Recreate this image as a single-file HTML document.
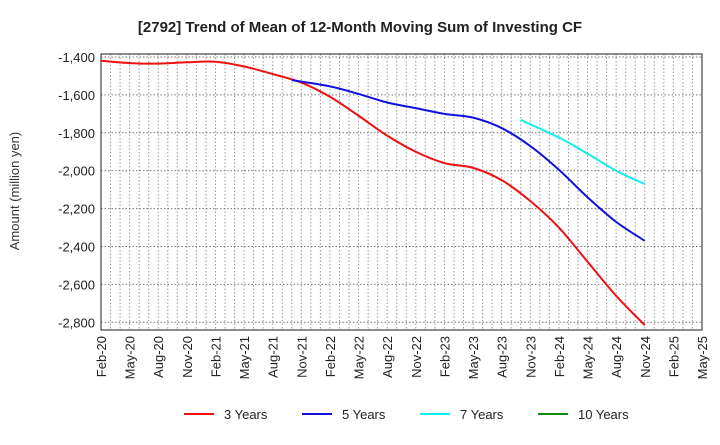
<!DOCTYPE html>
<html><head><meta charset="utf-8"><style>
body{margin:0;background:#fff;font-family:"Liberation Sans",sans-serif}
svg text{font-family:"Liberation Sans",sans-serif}
</style></head><body>
<svg id="chart" width="720" height="440" xmlns="http://www.w3.org/2000/svg">
<text x="360" y="32" text-anchor="middle" font-size="15" font-weight="bold" fill="#222">[2792]  Trend of Mean of 12-Month Moving Sum of Investing CF</text>
<text transform="translate(19,191) rotate(-90)" text-anchor="middle" font-size="13" fill="#333">Amount (million yen)</text>
<g id="grid"></g><g id="axes"></g><g id="series"></g><g id="legend"></g>
</svg>
<script>
const xLabels=["Feb-20","May-20","Aug-20","Nov-20","Feb-21","May-21","Aug-21","Nov-21","Feb-22","May-22","Aug-22","Nov-22","Feb-23","May-23","Aug-23","Nov-23","Feb-24","May-24","Aug-24","Nov-24","Feb-25","May-25"];
const yTicks=[-1400,-1600,-1800,-2000,-2200,-2400,-2600,-2800];
const seriesNames=["3 Years","5 Years","7 Years","10 Years"];
const seriesColors=["#ee1111","#1111dd","#11eeee","#118811"];
// month index from Feb-20
const s3Months=[0,3,6,9,12,15,18,21,24,27,30,33,36,39,42,45,48,51,54,57];
const s3=[-1420,-1432,-1435,-1428,-1425,-1450,-1490,-1535,-1610,-1710,-1815,-1900,-1960,-1985,-2050,-2160,-2300,-2480,-2660,-2815];
const s5Months=[20,24,27,30,33,36,39,42,45,48,51,54,57];
const s5=[-1522,-1555,-1595,-1640,-1670,-1700,-1720,-1775,-1870,-1995,-2140,-2270,-2370];
const s7Months=[44,48,51,54,57];
const s7=[-1732,-1825,-1910,-2000,-2070];
const s10Months=[];
const s10=[];

const NS="http://www.w3.org/2000/svg";
const L=101,R=702,T=54,B=330;
const monthW=(R-L)/63;
const xm=m=>L+m*monthW;
const x=q=>xm(q*3);
const y=v=>57+(-1400-v)/200*37.9;
function mk(tag,attrs,parent){const e=document.createElementNS(NS,tag);for(const k in attrs)e.setAttribute(k,attrs[k]);parent.appendChild(e);return e;}
const grid=document.getElementById('grid'),axes=document.getElementById('axes'),ser=document.getElementById('series'),leg=document.getElementById('legend');
for(let m=1;m<63;m++){const g=mk('line',{x1:xm(m),x2:xm(m),y1:T,y2:B,stroke:'#999','stroke-dasharray':'1.5,2','stroke-width':1},grid);

}
yTicks.forEach(v=>{const g=mk('line',{x1:L,x2:R,y1:y(v),y2:y(v),stroke:'#777','stroke-dasharray':'1.5,2','stroke-width':1},grid);


const t=mk('text',{x:L-6,y:y(v)+5,'text-anchor':'end','font-size':13,fill:'#222'},axes);t.textContent=v.toLocaleString('en-US');

});
const fr=mk('rect',{x:L,y:T,width:R-L,height:B-T,fill:'none',stroke:'#444','stroke-width':1.2},axes);


xLabels.forEach((lb,i)=>{const t=mk('text',{transform:`translate(${x(i)+5},${B+6}) rotate(-90)`,'text-anchor':'end','font-size':13,fill:'#222'},axes);t.textContent=lb;

});
function path(vals,months){const p=vals.map((v,i)=>[xm(months[i]),y(v)]);if(!p.length)return '';let d=`M${p[0][0]},${p[0][1]}`;
for(let i=0;i<p.length-1;i++){const p0=p[i-1]||p[i],p1=p[i],p2=p[i+1],p3=p[i+2]||p2;
d+=` C${p1[0]+(p2[0]-p0[0])/6},${p1[1]+(p2[1]-p0[1])/6} ${p2[0]-(p3[0]-p1[0])/6},${p2[1]-(p3[1]-p1[1])/6} ${p2[0]},${p2[1]}`;}return d;}
[[s3,s3Months],[s5,s5Months],[s7,s7Months],[s10,s10Months]].forEach((s,i)=>{if(!s[0].length)return;const e=mk('path',{d:path(s[0],s[1]),fill:'none',stroke:seriesColors[i],'stroke-width':2},ser);

});
const lx=[184,302,420,538];
seriesNames.forEach((n,i)=>{const g=mk('g',{},leg);


mk('line',{x1:lx[i],x2:lx[i]+30,y1:414,y2:414,stroke:seriesColors[i],'stroke-width':2},g);
const t=mk('text',{x:lx[i]+40,y:419,'font-size':13,fill:'#222'},g);t.textContent=n;});
</script>
</body></html>
